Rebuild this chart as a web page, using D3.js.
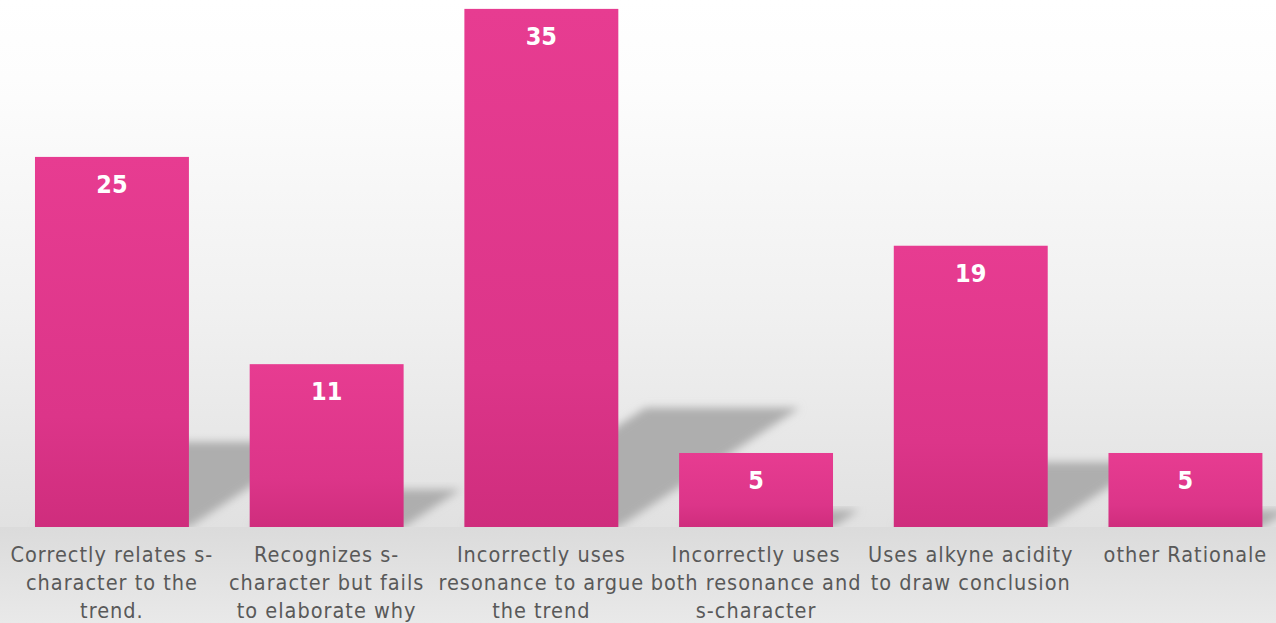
<!DOCTYPE html>
<html>
<head>
<meta charset="utf-8">
<script src="https://cdn.jsdelivr.net/npm/d3@7/dist/d3.min.js"></script>
<style>
  html, body { margin: 0; padding: 0; background: #fff; }
  svg { display: block; }
</style>
</head>
<body>
<svg id="chart" width="1276" height="623"></svg>
<script>
// Category keys, their wrapped axis labels, and the counts per category
const categories = ["c1", "c2", "c3", "c4", "c5", "c6"];
const categoryLabels = [
  ["Correctly relates s-", "character to the", "trend."],
  ["Recognizes s-", "character but fails", "to elaborate why"],
  ["Incorrectly uses", "resonance to argue", "the trend"],
  ["Incorrectly uses", "both resonance and", "s-character"],
  ["Uses alkyne acidity", "to draw conclusion"],
  ["other Rationale"]
];
const counts = [25, 11, 35, 5, 19, 5];

const W = 1276, H = 623;
const baseY = 527;          // floor line where the bars stand
const yMax = 35.6;

const svg = d3.select("#chart");
const defs = svg.append("defs");

// back wall: white fading to light grey
const wall = defs.append("linearGradient").attr("id", "wall")
  .attr("x1", 0).attr("y1", 0).attr("x2", 0).attr("y2", 1);
wall.append("stop").attr("offset", "0").attr("stop-color", "#ffffff");
wall.append("stop").attr("offset", "0.15").attr("stop-color", "#fdfdfd");
wall.append("stop").attr("offset", "0.6").attr("stop-color", "#f0f0f0");
wall.append("stop").attr("offset", "1").attr("stop-color", "#e1e1e1");

// floor below the bars
const floor = defs.append("linearGradient").attr("id", "floor")
  .attr("x1", 0).attr("y1", 0).attr("x2", 0).attr("y2", 1);
floor.append("stop").attr("offset", "0").attr("stop-color", "#dbdbdb");
floor.append("stop").attr("offset", "1").attr("stop-color", "#e9e9e9");

// bar fill
const barGrad = defs.append("linearGradient").attr("id", "barGrad")
  .attr("x1", 0).attr("y1", 0).attr("x2", 0).attr("y2", 1);
barGrad.append("stop").attr("offset", "0").attr("stop-color", "#e73c91");
barGrad.append("stop").attr("offset", "0.7").attr("stop-color", "#dc3589");
barGrad.append("stop").attr("offset", "1").attr("stop-color", "#cf2d7d");

// soft cast shadow
const blur = defs.append("filter").attr("id", "shadowBlur")
  .attr("x", "-20%").attr("y", "-20%").attr("width", "140%").attr("height", "140%");
blur.append("feGaussianBlur").attr("stdDeviation", 4.5);

defs.append("clipPath").attr("id", "wallClip")
  .append("rect").attr("x", 0).attr("y", 0).attr("width", W).attr("height", baseY);

svg.append("rect").attr("x", 0).attr("y", 0).attr("width", W).attr("height", baseY)
  .attr("fill", "url(#wall)");
svg.append("rect").attr("x", 0).attr("y", baseY).attr("width", W).attr("height", H - baseY)
  .attr("fill", "url(#floor)");

const x = d3.scaleBand()
  .domain(categories)
  .range([4.6, 1292.8])
  .paddingInner(0.283)
  .paddingOuter(0.1415);

const y = d3.scaleLinear().domain([0, yMax]).range([baseY, 0]);

const data = categories.map((c, i) => ({ key: c, value: counts[i], lines: categoryLabels[i] }));

// shadows cast up and to the right onto the back wall
const skew = 0.35, squash = 0.23;
svg.append("g").attr("clip-path", "url(#wallClip)")
  .selectAll("path").data(data).join("path")
  .attr("d", d => {
    const x0 = x(d.key), x1 = x0 + x.bandwidth();
    const h = baseY - y(d.value);
    const dx = skew * h, top = baseY - squash * h;
    return `M${x0},${baseY}L${x1},${baseY}L${x1 + dx},${top}L${x0 + dx},${top}Z`;
  })
  .attr("fill", "#aeaeae")
  .attr("filter", "url(#shadowBlur)");

// bars
svg.append("g").selectAll("rect").data(data).join("rect")
  .attr("x", d => x(d.key))
  .attr("y", d => y(d.value))
  .attr("width", x.bandwidth())
  .attr("height", d => baseY - y(d.value))
  .attr("fill", "url(#barGrad)");

// value labels inside the bar tops
svg.append("g").selectAll("text").data(data).join("text")
  .attr("x", d => x(d.key) + x.bandwidth() / 2)
  .attr("y", d => y(d.value) + 36)
  .attr("text-anchor", "middle")
  .attr("fill", "#ffffff")
  .style("font-family", "'DejaVu Sans Condensed', 'DejaVu Sans', sans-serif")
  .style("font-weight", "bold")
  .style("font-size", "25px")
  .text(d => d.value);

// category labels under the floor line
const lbl = svg.append("g").selectAll("text").data(data).join("text")
  .attr("text-anchor", "middle")
  .attr("fill", "#595959")
  .style("font-family", "'DejaVu Sans Condensed', 'DejaVu Sans', sans-serif")
  .style("font-size", "21.5px")
  .style("letter-spacing", "1px");
lbl.selectAll("tspan").data(d => d.lines.map(t => ({ t, cx: x(d.key) + x.bandwidth() / 2 })))
  .join("tspan")
  .attr("x", d => d.cx)
  .attr("y", (d, i) => 562 + i * 28)
  .text(d => d.t);
</script>
</body>
</html>
